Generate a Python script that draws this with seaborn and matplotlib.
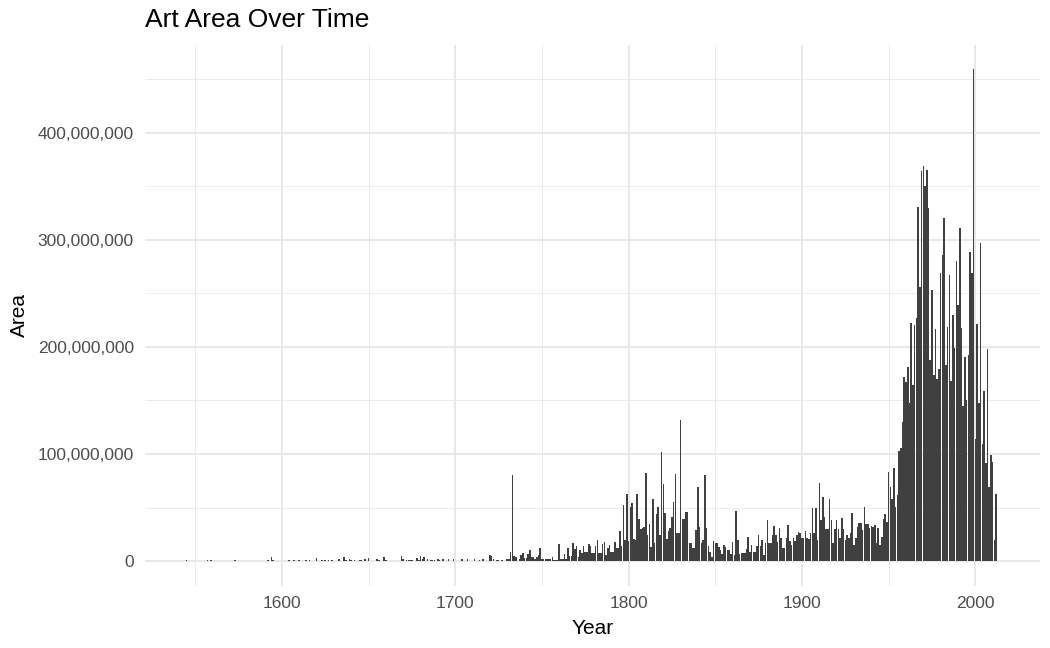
import numpy as np
import pandas as pd
import seaborn as sns
import matplotlib.pyplot as plt
from matplotlib.ticker import FuncFormatter, MultipleLocator

# total artwork area per year, values in millions
early_years = [1545, 1557, 1559, 1563, 1573, 1592, 1594, 1595, 1604, 1607,
               1610, 1614, 1616, 1620, 1623, 1625, 1627, 1629, 1633, 1636,
               1637, 1639, 1640, 1642, 1645, 1646, 1648, 1650, 1655, 1656,
               1659, 1660, 1669, 1670, 1672, 1673, 1674, 1675, 1678, 1679,
               1680, 1681, 1682, 1684, 1686, 1687, 1688, 1690, 1691, 1693,
               1696, 1699, 1704, 1707, 1711, 1714, 1716, 1720, 1721, 1722,
               1724, 1725]
early_area = [0.8, 0.8, 0.8, 0.6, 0.8, 1, 3.5, 1, 0.8, 0.8,
              0.8, 0.8, 1.5, 3, 1, 1, 0.8, 1, 2, 3.5,
              1, 2, 1, 1, 1, 1, 2, 3, 2, 1,
              4, 1, 5, 2, 1, 1, 1, 1, 3, 1,
              5, 2, 4, 2, 1, 1, 1, 2, 1, 2,
              2, 2, 2, 2, 2, 1, 2, 6, 5, 2,
              1, 1]

# 1727 - 1794
mid_years = [1727, 1730, 1731, 1732, 1733, 1734, 1735, 1737, 1738, 1739,
             1740, 1741, 1742, 1743, 1744, 1745, 1746, 1747, 1748, 1749,
             1750, 1751, 1752, 1753, 1754, 1755, 1756, 1757, 1758, 1759,
             1760, 1761, 1762, 1763, 1764, 1765, 1766, 1767, 1768, 1769,
             1770, 1771, 1772, 1773, 1774, 1775, 1776, 1777, 1778, 1779,
             1780, 1781, 1782, 1783, 1784, 1785, 1786, 1787, 1788, 1789,
             1790, 1791, 1792, 1793, 1794]
mid_area = [1, 2, 2, 9, 80, 5, 4, 2, 6, 8,
            3, 3, 7, 10, 4, 4, 2, 4, 6, 12,
            2, 2, 2, 2, 2, 2, 4, 1, 1, 1,
            16, 2, 2, 7, 2, 12, 5, 5, 17, 11,
            14, 4, 10, 8, 14, 9, 9, 16, 14, 8,
            8, 14, 20, 8, 8, 16, 18, 6, 12, 15,
            9, 9, 18, 12, 12]

# 1795 onward, one value for every year
late_start = 1795
late_area = [
    28, 14, 52, 20, 63, 19, 51, 54, 21, 20,          # 1795-1804
    63, 39, 30, 31, 32, 82, 24, 35, 13, 58,          # 1805-1814
    17, 44, 51, 24, 102, 72, 45, 21, 28, 31,         # 1815-1824
    41, 55, 81, 26, 26, 132, 39, 39, 46, 46,         # 1825-1834
    17, 17, 12, 12, 29, 69, 32, 17, 20, 80,          # 1835-1844
    31, 14, 9, 4, 19, 17, 17, 13, 10, 7,             # 1845-1854
    15, 13, 10, 10, 7, 18, 6, 47, 20, 7,             # 1855-1864
    8, 8, 8, 11, 23, 9, 15, 9, 9, 14,                # 1865-1874
    24, 14, 20, 6, 17, 38, 17, 17, 24, 33,           # 1875-1884
    24, 18, 31, 22, 12, 12, 22, 34, 19, 15,          # 1885-1894
    22, 19, 24, 27, 26, 22, 22, 28, 22, 21,          # 1895-1904
    26, 50, 26, 50, 20, 73, 38, 60, 41, 30,          # 1905-1914
    30, 58, 38, 17, 30, 38, 30, 22, 40, 30,          # 1915-1924
    20, 24, 22, 26, 45, 15, 22, 32, 36, 36,          # 1925-1934
    29, 51, 35, 35, 31, 33, 32, 34, 17, 31,          # 1935-1944
    15, 23, 39, 44, 37, 83, 69, 58, 87, 51,          # 1945-1954
    62, 103, 106, 130, 172, 167, 181, 148, 222, 164, # 1955-1964
    220, 227, 331, 256, 364, 369, 350, 365, 330, 188,  # 1965-1974
    253, 174, 217, 170, 179, 269, 286, 320, 183, 219,  # 1975-1984
    267, 168, 230, 199, 280, 239, 311, 218, 145, 191,  # 1985-1994
    150, 192, 289, 269, 459, 114, 221, 148, 297, 109,  # 1995-2004
    159, 92, 198, 69, 99, 93, 20, 63,                  # 2005-2012
]
late_years = list(range(late_start, late_start + len(late_area)))

years = early_years + mid_years + late_years
area = [a * 1e6 for a in early_area + mid_area + late_area]
df = pd.DataFrame({"Year": years, "Area": area})

sns.set_theme(style="white")
plt.rcParams['font.family'] = ['Liberation Sans', 'DejaVu Sans']

fig = plt.figure(figsize=(10.5, 6.48), dpi=100)
ax = fig.add_axes([0.138, 0.096, 0.852, 0.835])

sns.barplot(data=df, x="Year", y="Area", native_scale=True, width=0.9,
            color="#404040", saturation=1, errorbar=None, linewidth=0, ax=ax)

ax.set_xlim(1521, 2037)
ax.set_ylim(-23e6, 482e6)

ax.xaxis.set_major_locator(MultipleLocator(100))
ax.xaxis.set_minor_locator(MultipleLocator(50))
ax.yaxis.set_major_locator(MultipleLocator(100e6))
ax.yaxis.set_minor_locator(MultipleLocator(50e6))
ax.yaxis.set_major_formatter(FuncFormatter(lambda v, p: f"{v:,.0f}"))
ax.xaxis.set_major_formatter(FuncFormatter(lambda v, p: f"{v:.0f}"))

ax.grid(which="major", color="#E8E8E8", linewidth=1.4)
ax.grid(which="minor", color="#EBEBEB", linewidth=0.7)
ax.set_axisbelow(True)
for s in ax.spines.values():
    s.set_visible(False)

ax.tick_params(which="both", length=0, labelsize=12.5, labelcolor="#4D4D4D")
ax.tick_params(axis="x", pad=7)
ax.tick_params(axis="y", pad=8)

ax.set_xlabel("Year", fontsize=15, color="black", labelpad=6)
ax.set_ylabel("Area", fontsize=15, color="black", labelpad=6)
ax.set_title("Art Area Over Time", loc="left", fontsize=19, color="black", pad=13)

fig.savefig("out.png", dpi=100)
